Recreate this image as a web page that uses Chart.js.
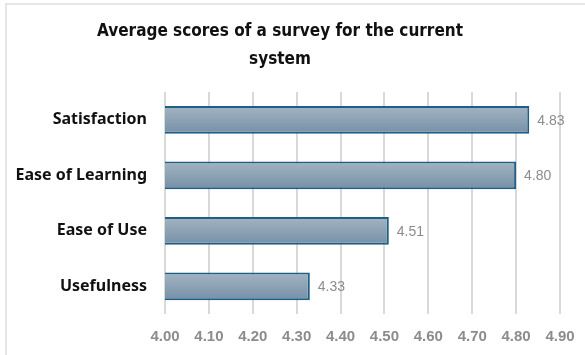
<!DOCTYPE html>
<html lang="en">
<head>
    <meta charset="UTF-8">
    <title>Average scores of a survey</title>
    <script src="https://cdn.jsdelivr.net/npm/chart.js"></script>
    <style>
        html, body { margin: 0; padding: 0; background: #fff; overflow: hidden; }
        #frame { position: absolute; left: 5px; top: 3px; width: 620px; height: 400px; border: 2px solid #e6e6e6; }
        #wrap { position: absolute; left: 0; top: 0; width: 585px; height: 355px; }
    </style>
</head>
<body>
    <div id="frame"></div>
    <div id="wrap"><canvas id="chart" width="585" height="355"></canvas></div>
    <script>
        // data
        const categories = ['Satisfaction', 'Ease of Learning', 'Ease of Use', 'Usefulness'];
        const scores = [4.83, 4.80, 4.51, 4.33];
        const tickValues = [4.00, 4.10, 4.20, 4.30, 4.40, 4.50, 4.60, 4.70, 4.80, 4.90];

        const PLOT_LEFT = 165;

        // gradient fill for each bar (lighter on top, darker below)
        function barFill(context) {
            const chart = context.chart;
            if (!chart.chartArea || !chart.scales.y) return '#8aa0b3';
            const yc = chart.scales.y.getPixelForValue(context.dataIndex);
            const g = chart.ctx.createLinearGradient(0, yc - 14, 0, yc + 14);
            g.addColorStop(0, '#a3b4c2');
            g.addColorStop(1, '#7690a7');
            return g;
        }

        // value labels to the right of the bars
        const valueLabels = {
            id: 'valueLabels',
            afterDatasetsDraw(chart) {
                const ctx = chart.ctx;
                const meta = chart.getDatasetMeta(0);
                ctx.save();
                ctx.font = '14px "Liberation Sans", Arial, sans-serif';
                ctx.fillStyle = '#8c8c8c';
                ctx.textAlign = 'left';
                ctx.textBaseline = 'middle';
                meta.data.forEach((bar, i) => {
                    ctx.fillText(scores[i].toFixed(2), bar.x + 8, bar.y + 1);
                });
                ctx.restore();
            }
        };

        new Chart(document.getElementById('chart').getContext('2d'), {
            type: 'bar',
            data: {
                labels: categories,
                datasets: [{
                    data: scores,
                    backgroundColor: barFill,
                    borderColor: '#1f5f86',
                    borderWidth: 2,
                    borderSkipped: false,
                    barPercentage: 0.5,
                    categoryPercentage: 1.0
                }]
            },
            options: {
                indexAxis: 'y',
                responsive: false,
                animation: false,
                layout: { padding: { left: 0, right: 25, top: 0, bottom: 10 } },
                plugins: {
                    legend: { display: false },
                    tooltip: { enabled: false },
                    title: {
                        display: true,
                        text: ['Average scores of a survey for the current', 'system'],
                        color: '#111',
                        font: { family: '"DejaVu Sans Condensed", "DejaVu Sans", sans-serif', size: 17, weight: 'bold', lineHeight: 1.65 },
                        padding: { top: 18, bottom: 18 }
                    }
                },
                scales: {
                    x: {
                        min: 4.0,
                        max: 4.9,
                        afterBuildTicks: (axis) => { axis.ticks = tickValues.map(v => ({ value: v })); },
                        afterFit: (axis) => { axis.height = 31; axis.paddingLeft = 0; axis.paddingRight = 0; },
                        grid: { color: '#d9d9d9', lineWidth: 2, drawTicks: false },
                        border: { display: false },
                        ticks: {
                            color: '#8c8c8c',
                            padding: 14,
                            maxRotation: 0,
                            font: { family: '"Liberation Sans", Arial, sans-serif', size: 15, weight: 'bold' },
                            callback: (v) => Number(v).toFixed(2)
                        }
                    },
                    y: {
                        afterFit: (axis) => { axis.width = PLOT_LEFT; },
                        grid: { display: false },
                        border: { display: false },
                        ticks: {
                            color: '#111',
                            padding: 10,
                            font: { family: '"Noto Sans", sans-serif', size: 16, weight: 'bold' }
                        }
                    }
                }
            },
            plugins: [valueLabels]
        });
    </script>
</body>
</html>
